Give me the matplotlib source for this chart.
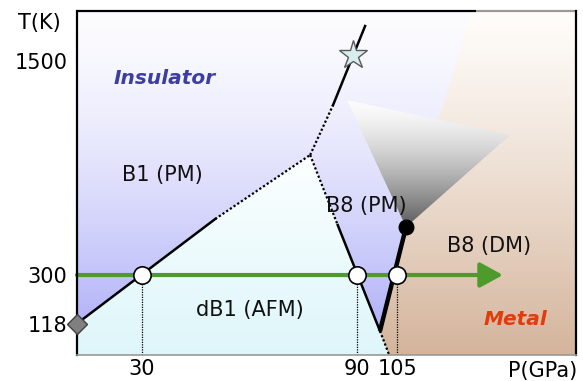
import numpy as np
import matplotlib
matplotlib.use("Agg")
import matplotlib.pyplot as plt
from matplotlib.patches import Polygon

plt.rcParams['font.family'] = ['DejaVu Sans']

# ---------------------------------------------------------------- data
# tick values
p_ticks = [30, 90, 105]
t_ticks = [118, 300, 1500]

# B1(PM) / dB1(AFM) boundary (Neel line), solid then dotted to the triple point
neel_solid_P = [0, 50.5]
neel_solid_T = [118, 614]
neel_dot_P = [50.5, 77.0]
neel_dot_T = [614, 973]

# B1 / B8 boundary above the triple point, dotted then solid
b1b8_dot_P = [77.0, 83.4]
b1b8_dot_T = [973, 1253]
b1b8_solid_P = [83.4, 93.1]
b1b8_solid_T = [1253, 1701]

# dB1 / B8 boundary below the triple point: dotted, solid, dotted
db1_dot1_P = [77.0, 84.7]
db1_dot1_T = [973, 580]
db1_solid_P = [84.7, 98.6]
db1_solid_T = [580, 90]
db1_dot2_P = [98.6, 102.0]
db1_dot2_T = [90, 0]

# insulator-metal transition line in B8, ending at the critical point
imt_P = [98.6, 107.2]
imt_T = [90, 569]

# special points
neel_ambient_P, neel_ambient_T = 0, 118
critical_P, critical_T = 89.0, 1534
imt_end_P, imt_end_T = 107.2, 569
room_T = 300
transition_P = [30, 90, 105]
arrow_P = [0, 131.6]

# crossover wedge above the critical end point
cross_P = [87.3, 133.4, 107.2]
cross_T = [1281, 1085, 569]

# region outlines
db1_region_P = [0, 50.5, 77.0, 102.0, 0]
db1_region_T = [118, 614, 973, 0, 0]
metal_region_P = [102.0, 98.6, 107.2, 123.8, 150, 150]
metal_region_T = [0, 90, 569, 1790, 1790, 0]

P_LIM = (0, 150)
T_LIM = (0, 1790)

# ---------------------------------------------------------------- schematic scales
# piecewise-linear axes (value -> relative display length)
p_anchor = [0, 30, 90, 105, 150]
p_disp = [0, 64.7, 279.7, 320.3, 499]
t_anchor = [0, 300, 1500, 1790]
t_disp = [0, 80, 294, 344.5]


def make_scale(xa, ya):
    xa = np.asarray(xa, float)
    ya = np.asarray(ya, float)

    def interp(v, a, b):
        v = np.asarray(v, float)
        out = np.interp(v, a, b)
        lo = v < a[0]
        hi = v > a[-1]
        s0 = (b[1] - b[0]) / (a[1] - a[0])
        s1 = (b[-1] - b[-2]) / (a[-1] - a[-2])
        out = np.where(lo, b[0] + (v - a[0]) * s0, out)
        out = np.where(hi, b[-1] + (v - a[-1]) * s1, out)
        return out

    return (lambda v: interp(v, xa, ya)), (lambda v: interp(v, ya, xa))


fig = plt.figure(figsize=(5.83, 3.81), dpi=100)
ax = fig.add_axes([0.1321, 0.0682, 0.8559, 0.9042])
ax.set_xscale('function', functions=make_scale(p_anchor, p_disp))
ax.set_yscale('function', functions=make_scale(t_anchor, t_disp))


def vgrad(top, bot, c_top, c_bot, gamma=1.0, n=500):
    fr = np.linspace(1, 0, n)
    t = np.clip((top - fr) / (top - bot), 0, 1) ** gamma
    c_top = np.array(c_top, float) / 255
    c_bot = np.array(c_bot, float) / 255
    return (c_top[None, :] + (c_bot - c_top)[None, :] * t[:, None])[:, None, :]


def shade(img, P=None, T=None, z=0):
    im = ax.imshow(img, extent=(0, 1, 0, 1), transform=ax.transAxes,
                   aspect='auto', interpolation='bilinear', zorder=z)
    if P is not None:
        poly = Polygon(list(zip(P, T)), closed=True, transform=ax.transData,
                       facecolor='none', edgecolor='none')
        im.set_clip_path(poly)
    return im


# insulating background, dB1 region, metallic region, crossover wedge
shade(vgrad(1.0, 0.0, (252, 252, 255), (168, 168, 248), 1.5), z=0)
shade(vgrad(0.58, 0.0, (252, 255, 255), (222, 246, 250), 1.0),
      db1_region_P, db1_region_T, z=0.5)
shade(vgrad(1.0, 0.0, (255, 253, 250), (212, 180, 155), 1.2),
      metal_region_P, metal_region_T, z=0.6)
shade(vgrad(0.74, 0.372, (252, 252, 252), (90, 90, 90), 1.5),
      cross_P, cross_T, z=0.7)

# ---------------------------------------------------------------- phase lines
dot = dict(color='black', lw=1.6, ls=(0, (1, 1)), zorder=3, solid_capstyle='butt')
sol = dict(color='black', lw=1.8, zorder=3)
ax.plot(neel_solid_P, neel_solid_T, **sol)
ax.plot(neel_dot_P, neel_dot_T, **dot)
ax.plot(b1b8_dot_P, b1b8_dot_T, **dot)
ax.plot(b1b8_solid_P, b1b8_solid_T, **sol)
ax.plot(db1_dot1_P, db1_dot1_T, **dot)
ax.plot(db1_solid_P, db1_solid_T, **sol)
ax.plot(db1_dot2_P, db1_dot2_T, **dot)
ax.plot(imt_P, imt_T, color='black', lw=3.2, zorder=3, solid_capstyle='butt')

# drop lines from the room-temperature transitions
for p in transition_P:
    ax.plot([p, p], [0, room_T], color='black', lw=0.9, ls=(0, (1, 1)), zorder=2)

# room-temperature compression path
green = '#4f9a2c'
ax.annotate('', xy=(arrow_P[1], room_T), xytext=(arrow_P[0], room_T),
            arrowprops=dict(arrowstyle='-|>,head_length=0.42,head_width=0.23',
                            lw=3, color=green, mutation_scale=33,
                            shrinkA=0, shrinkB=0),
            zorder=4, annotation_clip=False)

ax.plot(transition_P, [room_T] * len(transition_P), 'o', ms=12.5,
        mfc='white', mec='black', mew=1.2, zorder=6)
ax.plot([imt_end_P], [imt_end_T], 'o', ms=10.5, color='black', zorder=6)
ax.plot([critical_P], [critical_T], '*', ms=21, mfc='#d6eeee',
        mec='#5a5a5a', mew=1.0, zorder=6)
ax.plot([neel_ambient_P], [neel_ambient_T], 'D', ms=10, mfc='#808080',
        mec='#404040', mew=1.0, zorder=9, clip_on=False)

# ---------------------------------------------------------------- labels
ax.text(0.176, 0.804, 'Insulator', transform=ax.transAxes, ha='center',
        va='center', fontsize=14.5, fontweight='bold', fontstyle='italic',
        color='#3d3da3', zorder=7)
ax.text(0.878, 0.102, 'Metal', transform=ax.transAxes, ha='center',
        va='center', fontsize=14.5, fontweight='bold', fontstyle='italic',
        color='#e43a0c', zorder=7)
lab = dict(transform=ax.transAxes, ha='center', va='center', fontsize=15,
           color='#111111', zorder=7)
ax.text(0.172, 0.522, 'B1 (PM)', **lab)
ax.text(0.347, 0.131, 'dB1 (AFM)', **lab)
ax.text(0.579, 0.433, 'B8 (PM)', **lab)
ax.text(0.826, 0.316, 'B8 (DM)', **lab)

ax.text(-0.076, 0.964, 'T(K)', transform=ax.transAxes, ha='center',
        va='center', fontsize=15)
ax.text(1.003, -0.045, 'P(GPa)', transform=ax.transAxes, ha='right',
        va='center', fontsize=15)

ax.set_xticks(p_ticks)
ax.set_xticklabels([str(v) for v in p_ticks])
ax.set_yticks(t_ticks)
ax.set_yticklabels([str(v) for v in t_ticks])
ax.tick_params(axis='both', length=0, labelsize=15)
ax.tick_params(axis='x', pad=3)
ax.tick_params(axis='y', pad=7)
ax.minorticks_off()

ax.set_xlim(*P_LIM)
ax.set_ylim(*T_LIM)
ax.set_autoscale_on(False)

# frame: dark on the left, right and most of the top, lighter elsewhere
for side in ['left', 'right']:
    ax.spines[side].set_color('black')
    ax.spines[side].set_linewidth(1.6)
ax.spines['top'].set_visible(False)
ax.spines['bottom'].set_color('#999999')
ax.spines['bottom'].set_linewidth(1.2)
for s in ax.spines.values():
    s.set_zorder(8)
ax.plot([0, 0.8], [1, 1], transform=ax.transAxes, color='black', lw=1.6,
        zorder=8, clip_on=False, solid_capstyle='butt')
ax.plot([0.8, 1], [1, 1], transform=ax.transAxes, color='#9a9a9a', lw=1.6,
        zorder=8, clip_on=False, solid_capstyle='butt')

fig.savefig('out.png', dpi=100)
